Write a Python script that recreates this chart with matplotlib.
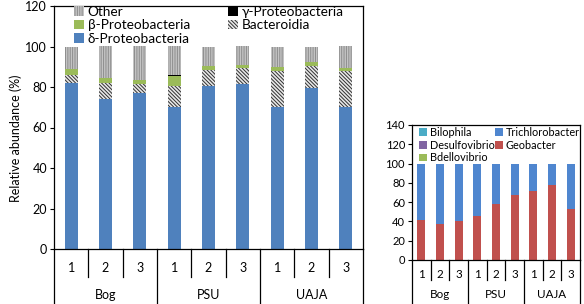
import matplotlib
matplotlib.use("Agg")
import matplotlib.pyplot as plt
import numpy as np

plt.rcParams['font.family'] = ['Lato', 'DejaVu Sans']
plt.rcParams['hatch.linewidth'] = 0.7

# ---------------- data ----------------
samples = ["1", "2", "3", "1", "2", "3", "1", "2", "3"]
groups = ["Bog", "PSU", "UAJA"]

delta_proteo = [82.0, 74.3, 77.2, 70.1, 80.3, 81.7, 70.1, 79.7, 69.9]
bacteroidia = [3.8, 7.7, 4.1, 10.2, 8.0, 7.7, 17.7, 10.7, 18.0]
beta_proteo = [3.0, 2.5, 2.0, 5.3, 2.3, 1.7, 2.1, 2.0, 1.7]
gamma_proteo = [0.0, 0.0, 0.0, 0.5, 0.0, 0.0, 0.0, 0.0, 0.0]
other = [11.2, 15.5, 16.7, 13.9, 9.4, 8.9, 10.1, 7.6, 10.4]

geobacter = [41.7, 37.6, 40.7, 45.7, 57.7, 67.0, 71.2, 77.4, 53.0]
trichlorobacter = [57.8, 61.9, 58.8, 53.8, 41.8, 32.5, 28.3, 22.1, 46.5]
bdellovibrio = [0.2, 0.2, 0.2, 0.2, 0.2, 0.2, 0.2, 0.2, 0.2]
desulfovibrio = [0.2, 0.2, 0.2, 0.2, 0.2, 0.2, 0.2, 0.2, 0.2]
bilophila = [0.1, 0.1, 0.1, 0.1, 0.1, 0.1, 0.1, 0.1, 0.1]

W, H = 584, 304
fig = plt.figure(figsize=(W / 100, H / 100), dpi=100)

def axes_px(l, r, t, b):
    return fig.add_axes([l / W, 1 - b / H, (r - l) / W, (b - t) / H])

def fig_pt(px, py):
    return (px / W, 1 - py / H)

ax1 = axes_px(54, 363, 6, 249)
ax2 = axes_px(412, 580, 125, 260)

x = np.arange(len(samples))

# ---------------- left chart ----------------
bw1 = 0.38
b = np.zeros(len(x))
h_delta = ax1.bar(x, delta_proteo, bw1, bottom=b, color='#4F81BD', linewidth=0)
b += delta_proteo
h_bact = ax1.bar(x, bacteroidia, bw1, bottom=b, facecolor='#E8E8E8', edgecolor='#303030',
                 hatch='\\' * 9, linewidth=0)
b += bacteroidia
h_beta = ax1.bar(x, beta_proteo, bw1, bottom=b, color='#9BBB59', linewidth=0)
b += beta_proteo
h_gamma = ax1.bar(x, gamma_proteo, bw1, bottom=b, color='black', linewidth=0)
b += gamma_proteo
h_other = ax1.bar(x, other, bw1, bottom=b, facecolor='#C4C4C4', edgecolor='#8C8C8C',
                  hatch='|' * 7, linewidth=0)

ax1.set_ylim(0, 120)
ax1.set_yticks(np.arange(0, 121, 20))
ax1.set_xlim(-0.5, len(x) - 0.5)
ax1.set_xticks([])
ax1.tick_params(axis='y', labelsize=9, length=3, width=0.8, pad=2)
for s in ax1.spines.values():
    s.set_linewidth(0.9)

fig.text(16 / W, 1 - 138 / H, "Relative abundance (%)", rotation=90,
         ha='center', va='center', fontsize=9)

leg_kw1 = dict(loc='upper left', bbox_transform=fig.transFigure, frameon=False,
               fontsize=9.8, handlelength=0.7, handleheight=0.7, handletextpad=0.3,
               labelspacing=0.1, borderaxespad=0, borderpad=0)
legA = ax1.legend([h_other, h_beta, h_delta],
                  ["Other", "β-Proteobacteria", "δ-Proteobacteria"],
                  bbox_to_anchor=fig_pt(74, 6), **leg_kw1)
ax1.add_artist(legA)
legB = ax1.legend([h_gamma, h_bact], ["γ-Proteobacteria", "Bacteroidia"],
                  bbox_to_anchor=fig_pt(228, 6), **leg_kw1)

def category_axis(ax, small_len, full_len, num_y, grp_y, fs):
    tr = ax.get_xaxis_transform()
    n = len(samples)
    for i in range(n + 1):
        xp = i - 0.5
        yb = -full_len if i % 3 == 0 else -small_len
        ax.plot([xp, xp], [0, yb], color='black', lw=0.9, transform=tr, clip_on=False)
    for i, s in enumerate(samples):
        ax.text(i, num_y, s, transform=tr, ha='center', va='center', fontsize=fs)
    for g, name in enumerate(groups):
        ax.text(g * 3 + 1, grp_y, name, transform=tr, ha='center', va='center', fontsize=fs)

category_axis(ax1, 28 / 243, 56 / 243, -19 / 243, -46 / 243, 9)

# ---------------- right chart ----------------
bw2 = 0.42
b = np.zeros(len(x))
h_geo = ax2.bar(x, geobacter, bw2, bottom=b, color='#C0504D', linewidth=0)
b += geobacter
h_tri = ax2.bar(x, trichlorobacter, bw2, bottom=b, color='#4F86CF', linewidth=0)
b += trichlorobacter
h_bdel = ax2.bar(x, bdellovibrio, bw2, bottom=b, color='#9BBB59', linewidth=0)
b += bdellovibrio
h_desu = ax2.bar(x, desulfovibrio, bw2, bottom=b, color='#8064A2', linewidth=0)
b += desulfovibrio
h_bilo = ax2.bar(x, bilophila, bw2, bottom=b, color='#4BACC6', linewidth=0)

ax2.set_ylim(0, 140)
ax2.set_yticks(np.arange(0, 141, 20))
ax2.set_xlim(-0.5, len(x) - 0.5)
ax2.set_xticks([])
ax2.tick_params(axis='y', labelsize=8, length=3, width=0.8, pad=2)
for s in ax2.spines.values():
    s.set_linewidth(0.9)

leg_kw2 = dict(loc='upper left', bbox_transform=fig.transFigure, frameon=False,
               fontsize=7.8, handlelength=0.7, handleheight=0.7, handletextpad=0.3,
               labelspacing=0.15, borderaxespad=0, borderpad=0)
legC = ax2.legend([h_bilo, h_desu, h_bdel],
                  ["Bilophila", "Desulfovibrio", "Bdellovibrio"],
                  bbox_to_anchor=fig_pt(419, 127), **leg_kw2)
ax2.add_artist(legC)
legD = ax2.legend([h_tri, h_geo], ["Trichlorobacter", "Geobacter"],
                  bbox_to_anchor=fig_pt(495, 127), **leg_kw2)

category_axis(ax2, 20 / 135, 44 / 135, -14 / 135, -35 / 135, 8.4)

fig.savefig("out.png", dpi=100)
